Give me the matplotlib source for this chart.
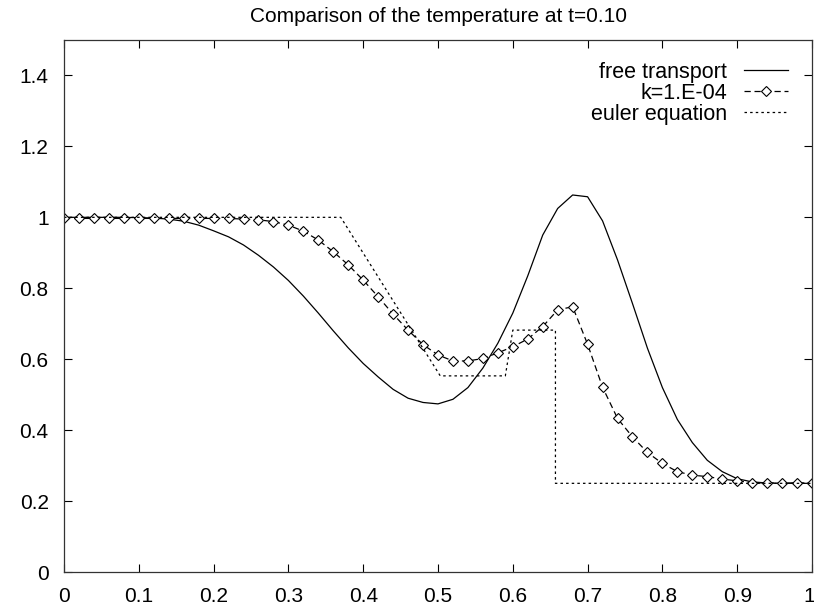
import numpy as np
import matplotlib
matplotlib.use("Agg")
import matplotlib.pyplot as plt
from matplotlib.transforms import ScaledTranslation

plt.rcParams['font.family'] = ['Liberation Sans', 'DejaVu Sans']

# ---- data ----
x_free = [0.00, 0.02, 0.04, 0.06, 0.08, 0.10, 0.12, 0.14, 0.16, 0.18, 0.20,
          0.22, 0.24, 0.26, 0.28, 0.30, 0.32, 0.34, 0.36, 0.38, 0.40,
          0.42, 0.44, 0.46, 0.48, 0.50, 0.52, 0.54, 0.56, 0.58, 0.60,
          0.62, 0.64, 0.66, 0.68, 0.70, 0.72, 0.74, 0.76, 0.78, 0.80,
          0.82, 0.84, 0.86, 0.88, 0.90, 0.92, 0.94, 0.96, 0.98, 1.00]
y_free = [1.0, 1.0, 1.0, 1.0, 1.0, 0.999, 0.998, 0.995, 0.989, 0.978, 0.962,
          0.945, 0.922, 0.893, 0.86, 0.822, 0.778, 0.73, 0.68, 0.632, 0.588,
          0.55, 0.515, 0.49, 0.478, 0.474, 0.487, 0.52, 0.575, 0.645, 0.73,
          0.835, 0.95, 1.025, 1.063, 1.058, 0.99, 0.88, 0.757, 0.631, 0.52,
          0.43, 0.365, 0.315, 0.283, 0.263, 0.254, 0.251, 0.25, 0.25, 0.25]

x_k = x_free
y_k = [0.997, 0.997, 0.997, 0.997, 0.997, 0.997, 0.997, 0.997, 0.997, 0.997, 0.997,
       0.997, 0.995, 0.993, 0.988, 0.978, 0.961, 0.936, 0.903, 0.866, 0.823,
       0.776, 0.727, 0.682, 0.641, 0.612, 0.595, 0.595, 0.602, 0.618, 0.635,
       0.657, 0.692, 0.739, 0.748, 0.642, 0.521, 0.433, 0.381, 0.337, 0.306,
       0.283, 0.273, 0.269, 0.262, 0.257, 0.252, 0.251, 0.251, 0.251, 0.251]

x_euler = [0.0, 0.37, 0.503, 0.59, 0.60, 0.657, 0.657, 1.0]
y_euler = [1.0, 1.0, 0.553, 0.553, 0.682, 0.682, 0.25, 0.25]

title = "Comparison of the temperature at t=0.10"
labels = ["free transport", "k=1.E-04", "euler equation"]
xticks = [0, 0.1, 0.2, 0.3, 0.4, 0.5, 0.6, 0.7, 0.8, 0.9, 1]
xticklabels = ["0", "0.1", "0.2", "0.3", "0.4", "0.5", "0.6", "0.7", "0.8", "0.9", "1"]
yticks = [0, 0.2, 0.4, 0.6, 0.8, 1, 1.2, 1.4]
yticklabels = ["0", "0.2", "0.4", "0.6", "0.8", "1", "1.2", "1.4"]

# ---- figure ----
fig = plt.figure(figsize=(8.14, 6.13), dpi=100)
ax = fig.add_axes([64/814, 41/613, (812-64)/814, (572-40)/613])

fs = 15
ax.plot(x_free, y_free, color='black', lw=0.9, label=labels[0])
ax.plot(x_k, y_k, color='black', lw=0.9, dashes=(5, 3), marker='D',
        markersize=4.8, markerfacecolor='white', markeredgecolor='black',
        markeredgewidth=0.8, label=labels[1])
ax.plot(x_euler, y_euler, color='black', lw=0.9, dashes=(2, 2.5), label=labels[2])

ax.set_xlim(0, 1)
ax.set_ylim(0, 1.5)
ax.set_xticks(xticks)
ax.set_xticklabels(xticklabels, fontsize=fs)
ax.set_yticks(yticks)
ax.set_yticklabels(yticklabels, fontsize=fs)
ax.tick_params(direction='in', length=6, width=0.8, top=True, right=True, pad=11)
for s in ax.spines.values():
    s.set_linewidth(0.9)
    s.set_color('#333333')

# keep last x label inside the canvas
last = ax.get_xticklabels()[-1]
last.set_transform(last.get_transform() + ScaledTranslation(-3/100, 0, fig.dpi_scale_trans))

ax.set_title(title, fontsize=15, pad=13)

leg = ax.legend(loc='upper right', frameon=False, markerfirst=False,
                fontsize=15.5, handlelength=2.05, handletextpad=0.8,
                labelspacing=0.0, numpoints=1, borderaxespad=0.5,
                bbox_to_anchor=(0.994, 0.996))

fig.savefig("out.png", dpi=100)
